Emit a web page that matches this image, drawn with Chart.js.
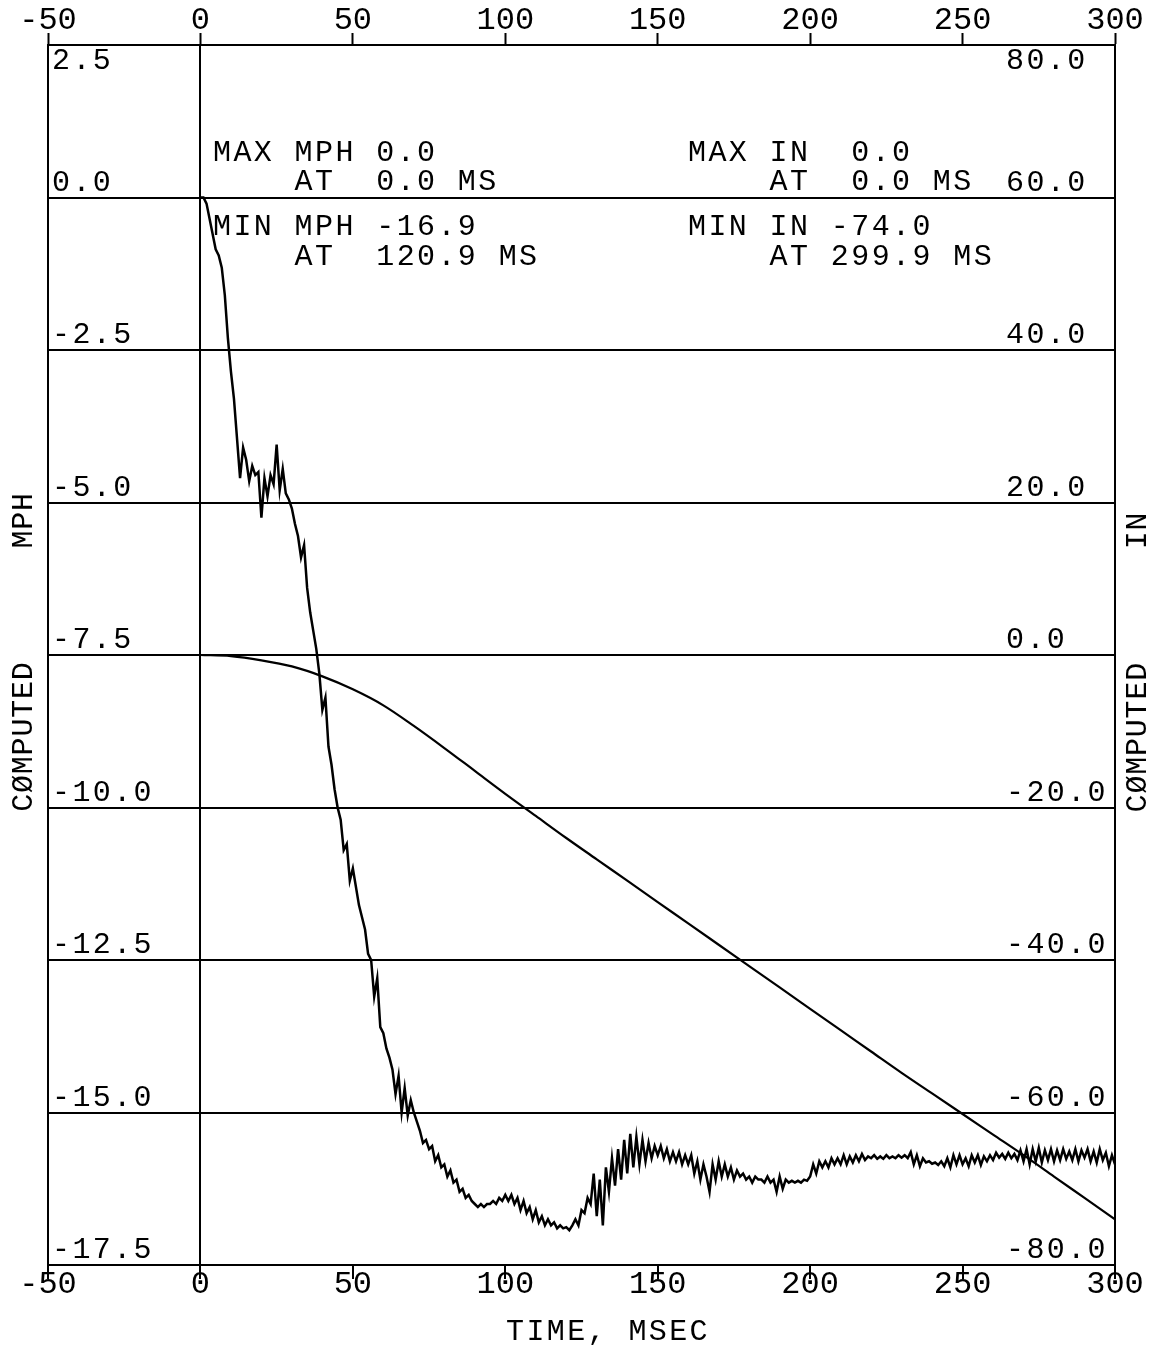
<!DOCTYPE html>
<html lang="en">
<head>
<meta charset="UTF-8">
<title>Computed MPH / IN vs time</title>
<script src="https://cdn.jsdelivr.net/npm/chart.js"></script>
<style>
  html, body { margin: 0; padding: 0; background: #fff; }
  #wrap { width: 1159px; height: 1345px; }
</style>
</head>
<body>
<div id="wrap"><canvas id="plot" width="1159" height="1345"></canvas></div>
<script>
const MONO = '"Liberation Mono", "DejaVu Sans Mono", monospace';

// x axis (time, ms)
const timeTicks = [-50, 0, 50, 100, 150, 200, 250, 300];

// left axis (computed MPH)
const mphTicks = [2.5, 0, -2.5, -5, -7.5, -10, -12.5, -15, -17.5];
const mphLabels = ['2.5', '0.0', '-2.5', '-5.0', '-7.5', '-10.0', '-12.5', '-15.0', '-17.5'];

// right axis (computed IN)
const inTicks = [80, 60, 40, 20, 0, -20, -40, -60, -80];
const inLabels = ['80.0', '60.0', '40.0', '20.0', '0.0', '-20.0', '-40.0', '-60.0', '-80.0'];

// velocity trace, one sample per ms starting at 0 ms
const velStartMs = 0;
const velStepMs = 1;
const velMph = [
  0, 0, -0.1, -0.35, -0.6, -0.85, -0.95, -1.15, -1.6, -2.3,
  -2.85, -3.3, -3.95, -4.6, -4.1, -4.3, -4.65, -4.4, -4.55, -4.5,
  -5.25, -4.6, -4.9, -4.55, -4.7, -4.05, -4.8, -4.45, -4.85, -4.95,
  -5.1, -5.35, -5.55, -5.9, -5.7, -6.4, -6.8, -7.1, -7.4, -7.8,
  -8.4, -8.2, -9.0, -9.3, -9.7, -10.0, -10.2, -10.7, -10.6, -11.2,
  -11.0, -11.3, -11.6, -11.8, -12.0, -12.4, -12.5, -13.1, -12.8, -13.6,
  -13.7, -13.95, -14.1, -14.3, -14.7, -14.4, -15.0, -14.6, -15.05, -14.8,
  -15.0, -15.15, -15.3, -15.5, -15.45, -15.6, -15.55, -15.8, -15.7, -15.9,
  -15.85, -16.05, -15.95, -16.15, -16.1, -16.3, -16.25, -16.4, -16.35, -16.45,
  -16.5, -16.55, -16.5, -16.55, -16.5, -16.5, -16.45, -16.5, -16.4, -16.45,
  -16.35, -16.45, -16.35, -16.5, -16.4, -16.6, -16.45, -16.65, -16.55, -16.75,
  -16.6, -16.8, -16.7, -16.85, -16.75, -16.85, -16.8, -16.9, -16.85, -16.9,
  -16.88, -16.93, -16.85, -16.75, -16.85, -16.6, -16.65, -16.4, -16.5, -16.0,
  -16.7, -16.1, -16.85, -15.9, -16.3, -15.75, -16.2, -15.6, -16.1, -15.45,
  -16.0, -15.35, -15.9, -15.4, -15.85, -15.45, -15.8, -15.5, -15.75, -15.55,
  -15.7, -15.55, -15.75, -15.6, -15.8, -15.65, -15.8, -15.65, -15.85, -15.7,
  -15.85, -15.7, -16.0, -15.8, -16.1, -15.85, -16.05, -16.3, -15.85, -16.1,
  -15.8, -16.05, -15.85, -16.05, -15.9, -16.1, -15.95, -16.05, -16.0, -16.1,
  -16.05, -16.15, -16.05, -16.1, -16.1, -16.15, -16.05, -16.15, -16.1, -16.3,
  -16.05, -16.25, -16.1, -16.15, -16.12, -16.15, -16.12, -16.15, -16.1, -16.12,
  -16.05, -15.85, -16.0, -15.8, -15.9, -15.8, -15.9, -15.75, -15.85, -15.75,
  -15.85, -15.7, -15.85, -15.72, -15.82, -15.7, -15.8, -15.68, -15.78, -15.72,
  -15.75, -15.7, -15.76, -15.72, -15.76, -15.7, -15.75, -15.72, -15.75, -15.7,
  -15.74, -15.7, -15.75, -15.65, -15.85, -15.7, -15.88, -15.75, -15.82, -15.8,
  -15.84, -15.82, -15.86, -15.8, -15.88, -15.75, -15.9, -15.7, -15.85, -15.7,
  -15.85, -15.75, -15.88, -15.7, -15.82, -15.7, -15.86, -15.72, -15.8, -15.7,
  -15.78, -15.66, -15.74, -15.68, -15.76, -15.66, -15.75, -15.68, -15.78, -15.62,
  -15.8, -15.6, -15.85, -15.6, -15.8, -15.58, -15.82, -15.62, -15.78, -15.6,
  -15.8, -15.62, -15.78, -15.6, -15.76, -15.64, -15.78, -15.6, -15.8, -15.62,
  -15.74, -15.6, -15.8, -15.64, -15.82, -15.6, -15.78, -15.66, -15.88, -15.7,
  -15.85
];

// displacement trace
const dispTimeMs = [0, 10, 20, 30, 40, 50, 60, 70, 80, 90, 100, 110, 120, 130, 140, 150,
                    160, 170, 180, 190, 200, 210, 220, 230, 240, 250, 260, 270, 280, 290, 300];
const dispIn = [0, -0.15, -0.7, -1.5, -2.8, -4.5, -6.6, -9.3, -12.2, -15.2, -18.2, -21.1, -24.0, -26.8, -29.6, -32.4,
                -35.2, -38.0, -40.8, -43.6, -46.4, -49.2, -52.0, -54.8, -57.5, -60.2, -62.9, -65.6, -68.4, -71.2, -74.0];

// summary text printed in the plot
const mphStats = ['MAX MPH 0.0', '    AT  0.0 MS', 'MIN MPH -16.9', '    AT  120.9 MS'];
const inStats = ['MAX IN  0.0', '    AT  0.0 MS', 'MIN IN -74.0', '    AT 299.9 MS'];

const velPoints = velMph.map((v, i) => ({ x: velStartMs + i * velStepMs, y: v }));
const dispPoints = dispIn.map((v, i) => ({ x: dispTimeMs[i], y: v }));

const whiteBg = {
  id: 'whiteBg',
  beforeDraw(chart) {
    const ctx = chart.ctx;
    ctx.save();
    ctx.fillStyle = '#fff';
    ctx.fillRect(0, 0, chart.width, chart.height);
    ctx.restore();
  }
};

const plotText = {
  id: 'plotText',
  afterDraw(chart) {
    const ctx = chart.ctx;
    const yL = chart.scales.y, yR = chart.scales.y2;
    ctx.save();
    ctx.fillStyle = '#000';
    ctx.font = '30px ' + MONO;
    ctx.letterSpacing = '2.4px';
    ctx.textBaseline = 'alphabetic';

    // value labels sit just above each grid line, the top one just under the frame
    ctx.textAlign = 'left';
    mphTicks.forEach((v, i) => {
      const py = yL.getPixelForValue(v);
      const base = i === 0 ? py + 24 : py - 7;
      ctx.fillText(mphLabels[i], chart.chartArea.left + 4, base);
    });
    inTicks.forEach((v, i) => {
      const py = yR.getPixelForValue(v);
      const base = i === 0 ? py + 24 : py - 7;
      ctx.fillText(inLabels[i], chart.chartArea.right - 109, base);
    });

    // max / min blocks
    const rows = [161, 190, 235, 265];
    mphStats.forEach((s, i) => ctx.fillText(s, 213, rows[i]));
    inStats.forEach((s, i) => ctx.fillText(s, 688, rows[i]));

    // x title
    ctx.textAlign = 'center';
    ctx.fillText('TIME, MSEC', 608, 1340);

    // rotated side titles, both read bottom to top
    ctx.letterSpacing = '0.8px';
    ctx.textBaseline = 'middle';
    ctx.save();
    ctx.translate(24, 652);
    ctx.rotate(-Math.PI / 2);
    ctx.fillText('CØMPUTED      MPH', 0, 0);
    ctx.restore();
    ctx.save();
    ctx.translate(1138, 662);
    ctx.rotate(-Math.PI / 2);
    ctx.fillText('CØMPUTED      IN', 0, 0);
    ctx.restore();
    ctx.restore();
  }
};

const tickFont = { family: MONO, size: 32 };

new Chart(document.getElementById('plot'), {
  type: 'line',
  data: {
    datasets: [
      {
        label: 'Computed MPH',
        data: velPoints,
        xAxisID: 'x',
        yAxisID: 'y',
        borderColor: '#000',
        borderWidth: 2.5,
        pointRadius: 0,
        tension: 0
      },
      {
        label: 'Computed IN',
        data: dispPoints,
        xAxisID: 'x',
        yAxisID: 'y2',
        borderColor: '#000',
        borderWidth: 2.2,
        pointRadius: 0,
        cubicInterpolationMode: 'monotone'
      }
    ]
  },
  options: {
    responsive: false,
    animation: false,
    layout: { padding: 0 },
    plugins: { legend: { display: false }, tooltip: { enabled: false } },
    scales: {
      x: {
        type: 'linear',
        position: 'bottom',
        min: -50,
        max: 300,
        afterFit: s => { s.height = 80; },
        afterBuildTicks: s => { s.ticks = timeTicks.map(v => ({ value: v })); },
        grid: {
          color: c => (c.tick && c.tick.value === 0 ? '#000' : 'rgba(0,0,0,0)'),
          lineWidth: 2,
          tickColor: '#000',
          tickLength: 14,
          tickWidth: 2
        },
        border: { color: '#000', width: 2 },
        ticks: { font: tickFont, color: '#000', padding: -14, maxRotation: 0, autoSkip: false, callback: v => String(v) }
      },
      x2: {
        type: 'linear',
        position: 'top',
        min: -50,
        max: 300,
        afterFit: s => { s.height = 45; },
        afterBuildTicks: s => { s.ticks = timeTicks.map(v => ({ value: v })); },
        grid: { drawOnChartArea: false, tickColor: '#000', tickLength: 12, tickWidth: 2 },
        border: { color: '#000', width: 2 },
        ticks: { font: tickFont, color: '#000', padding: -7, maxRotation: 0, autoSkip: false, callback: v => String(v) }
      },
      y: {
        type: 'linear',
        position: 'left',
        min: -17.5,
        max: 2.5,
        afterFit: s => { s.width = 48; },
        afterBuildTicks: s => { s.ticks = mphTicks.map(v => ({ value: v })); },
        grid: { color: '#000', lineWidth: 2, drawTicks: false },
        border: { color: '#000', width: 2 },
        ticks: { display: false }
      },
      y2: {
        type: 'linear',
        position: 'right',
        min: -80,
        max: 80,
        afterFit: s => { s.width = 44; },
        afterBuildTicks: s => { s.ticks = inTicks.map(v => ({ value: v })); },
        grid: { drawOnChartArea: false, drawTicks: false },
        border: { color: '#000', width: 2 },
        ticks: { display: false }
      }
    }
  },
  plugins: [whiteBg, plotText]
});
</script>
</body>
</html>
